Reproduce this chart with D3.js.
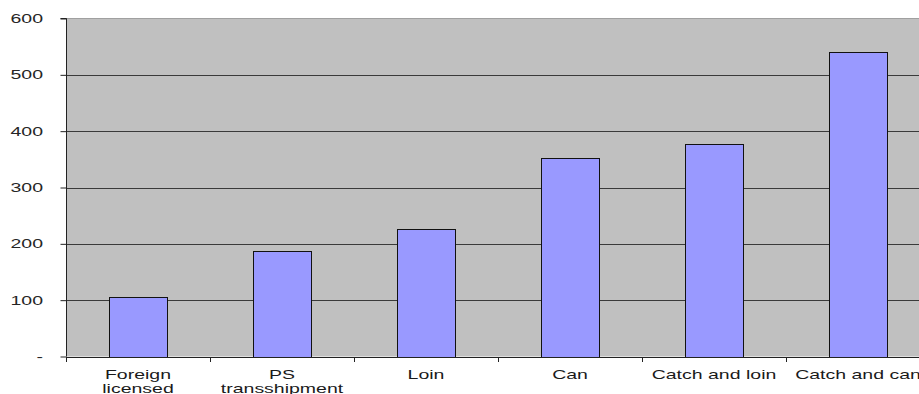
<!DOCTYPE html>
<html>
<head>
<meta charset="utf-8">
<script src="https://cdn.jsdelivr.net/npm/d3@7"></script>
<style>
  html, body { margin: 0; padding: 0; background: #ffffff; }
  svg { display: block; }
  text { font-family: "Liberation Sans", Arial, sans-serif; }
</style>
</head>
<body>
<svg id="chart" width="919" height="394"></svg>
<script>
// Categories (multi-line labels split on \n)
const categories = [
  "Foreign\nlicensed",
  "PS\ntransshipment",
  "Loin",
  "Can",
  "Catch and loin",
  "Catch and can"
];
const values = [105, 188, 227, 353, 378, 540];
const yTicks = [0, 100, 200, 300, 400, 500, 600];
const yTickLabels = ["-", "100", "200", "300", "400", "500", "600"];

const svg = d3.select("#chart");
const plot = { left: 66, right: 930, top: 18.5, bottom: 356.5 };
const fontSize = 13;
const stretch = 1.5;   // labels are drawn horizontally widened

const x = d3.scaleBand()
  .domain(categories)
  .range([plot.left, plot.right])
  .paddingInner(0.6)
  .paddingOuter(0.3);

const y = d3.scaleLinear()
  .domain([0, 600])
  .range([plot.bottom, plot.top]);

// Plot area background
svg.append("rect")
  .attr("x", plot.left)
  .attr("y", plot.top)
  .attr("width", plot.right - plot.left)
  .attr("height", plot.bottom - plot.top)
  .attr("fill", "#c0c0c0");

// Top border of plot area
svg.append("line")
  .attr("x1", plot.left).attr("x2", plot.right)
  .attr("y1", plot.top).attr("y2", plot.top)
  .attr("stroke", "#a0a0a0").attr("stroke-width", 1);

// Horizontal gridlines
svg.append("g")
  .selectAll("line")
  .data(yTicks.filter(d => d > 0 && d < 600))
  .join("line")
  .attr("x1", plot.left).attr("x2", plot.right)
  .attr("y1", d => Math.round(y(d)) + 0.5)
  .attr("y2", d => Math.round(y(d)) + 0.5)
  .attr("stroke", "#3a3a3a").attr("stroke-width", 1);

// Bars
svg.append("g")
  .selectAll("rect")
  .data(values)
  .join("rect")
  .attr("x", (d, i) => Math.round(x(categories[i])) + 0.5)
  .attr("y", d => Math.round(y(d)) + 0.5)
  .attr("width", Math.round(x.bandwidth()))
  .attr("height", d => Math.round(y(0)) - Math.round(y(d)))
  .attr("fill", "#9999ff")
  .attr("stroke", "#111111")
  .attr("stroke-width", 1);

// Y axis line and tick marks
const yAxis = d3.axisLeft(y)
  .tickValues(yTicks)
  .tickFormat("")
  .tickSize(6);

const gy = svg.append("g")
  .attr("transform", `translate(${plot.left + 0.5},0)`)
  .call(yAxis);
gy.select(".domain").attr("stroke", "#222").attr("d", `M-6,${y(600)}H0V${y(0)}`);
gy.selectAll(".tick line").attr("stroke", "#222");

// Y tick labels (widened)
svg.append("g")
  .selectAll("text")
  .data(yTicks)
  .join("text")
  .attr("transform", d => `translate(43,${y(d) + 4.6}) scale(${stretch},1)`)
  .attr("text-anchor", "end")
  .attr("font-size", fontSize + "px")
  .attr("fill", "#262626")
  .text((d, i) => yTickLabels[i]);

// X axis baseline and category separator ticks
const step = x.step();
const sepPositions = d3.range(categories.length + 1).map(i => x(categories[0]) - step * 0.3 + i * step);

svg.append("line")
  .attr("x1", plot.left).attr("x2", plot.right)
  .attr("y1", Math.round(y(0)) + 0.5).attr("y2", Math.round(y(0)) + 0.5)
  .attr("stroke", "#222").attr("stroke-width", 1);

svg.append("g")
  .selectAll("line")
  .data(sepPositions)
  .join("line")
  .attr("x1", d => Math.round(d) + 0.5).attr("x2", d => Math.round(d) + 0.5)
  .attr("y1", Math.round(y(0))).attr("y2", Math.round(y(0)) + 5)
  .attr("stroke", "#222").attr("stroke-width", 1);

// Category labels (widened, possibly two lines)
const labels = svg.append("g")
  .selectAll("text")
  .data(categories)
  .join("text")
  .attr("transform", d => `translate(${x(d) + x.bandwidth() / 2},378.5) scale(${stretch},1)`)
  .attr("text-anchor", "middle")
  .attr("font-size", fontSize + "px")
  .attr("fill", "#1a1a1a");

labels.each(function(d) {
  const lines = d.split("\n");
  const t = d3.select(this);
  lines.forEach((ln, i) => {
    t.append("tspan")
      .attr("x", 0)
      .attr("dy", i === 0 ? 0 : 15)
      .text(ln);
  });
});
</script>
</body>
</html>
